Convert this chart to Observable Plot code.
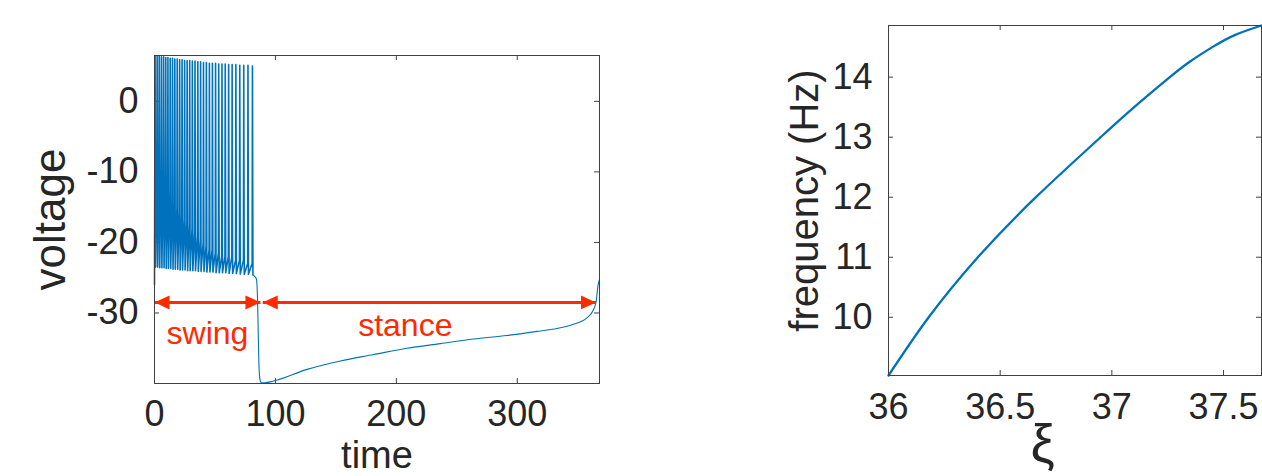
<!DOCTYPE html>
<html>
<head>
<meta charset="utf-8">
<script src="https://cdn.jsdelivr.net/npm/d3@7"></script>
<script src="https://cdn.jsdelivr.net/npm/@observablehq/plot@0.6"></script>
<style>
  html, body { margin: 0; padding: 0; background: #fff; }
  #wrap { position: relative; width: 1262px; height: 476px; overflow: hidden; background: #fff; }
  #left, #right { position: absolute; top: 0; }
  #left { left: 0; }
  #right { left: 762px; }
</style>
</head>
<body>
<div id="wrap"><div id="left"></div><div id="right"></div></div>
<script>
// ---------- Left panel data (voltage trace) ----------
const startT = 0, startV = -26;
const spikeTimes = [0.5, 2.2, 3.9, 5.7, 7.5, 9.3, 11.1, 13.0, 14.9, 16.8, 18.8, 20.8, 22.8, 24.9, 27.0, 29.1, 31.3, 33.5, 35.8, 38.1, 40.5, 42.9, 45.4, 47.9, 50.5, 53.1, 55.8, 58.5, 61.3, 64.2, 67.3, 70.5, 73.8, 77.3, 81.0];
const spikePeaks = [6.5, 6.4, 6.4, 6.3, 6.3, 6.2, 6.2, 6.1, 6.1, 6.0, 6.0, 5.9, 5.9, 5.8, 5.8, 5.8, 5.7, 5.7, 5.6, 5.6, 5.5, 5.5, 5.4, 5.4, 5.4, 5.3, 5.3, 5.3, 5.2, 5.2, 5.2, 5.1, 5.1, 5.1, 5.0];
const spikeTroughs = [-23.5, -23.5, -23.6, -23.6, -23.6, -23.7, -23.7, -23.7, -23.8, -23.8, -23.8, -23.9, -23.9, -23.9, -24.0, -24.0, -24.0, -24.0, -24.1, -24.1, -24.1, -24.2, -24.2, -24.2, -24.3, -24.3, -24.3, -24.3, -24.4, -24.4, -24.4, -24.5, -24.5, -24.5, -24.6];
// level reached just before each spike takes off
const preSpikeLevels = [-8, -9, -10, -10.5, -11, -12, -12.5, -13, -14, -14.5, -15, -15.5, -16, -16.5, -17, -17.5, -18, -18.5, -19, -19.5, -20, -20.5, -21, -21, -21.5, -21.5, -22, -22, -22, -22, -22.5, -22.5, -22.5, -23, -23];
const restT = [81.4, 82.2, 83.3, 84.3, 85.2, 85.8, 86.4, 87.2, 88.5, 91.0, 98.6, 126.2, 153.7, 181.3, 208.8, 236.4, 263.9, 291.5, 319.0, 332.8, 346.5, 357.6, 363.1, 365.3, 366.7, 367.8];
const restV = [-24.6, -24.7, -24.9, -25.2, -28.0, -33.0, -37.5, -39.4, -39.9, -39.9, -39.65, -38.0, -36.8, -35.9, -35.0, -34.35, -33.7, -33.2, -32.55, -32.2, -31.6, -30.7, -29.5, -28.3, -26.2, -25.3];
const timeTicks = [0, 100, 200, 300];
const voltageTicks = [-30, -20, -10, 0];

// phase annotations
const phaseNames = ["swing", "stance"];
const phaseStart = [0, 89.5];
const phaseEnd = [87.6, 365];
const phaseArrowV = -28.5;
const phaseLabelT = [43.8, 207.4];
const phaseLabelV = [-34.4, -33.3];

// ---------- Right panel data (frequency vs xi) ----------
const xiValues = [36, 36.18, 36.40, 36.66, 36.95, 37.1, 37.25, 37.35, 37.45, 37.55, 37.67];
const freqValues = [9.03, 10, 11, 12, 13, 13.5, 13.97, 14.26, 14.5, 14.7, 14.86];
const xiTicks = [36, 36.5, 37, 37.5];
const freqTicks = [10, 11, 12, 13, 14];

// ---------- build tables ----------
const swingTrace = [{t: startT, v: startV}];
spikeTimes.forEach((t, i) => {
  swingTrace.push({t: t - 0.25, v: preSpikeLevels[i]});
  swingTrace.push({t, v: spikePeaks[i]});
  swingTrace.push({t: t + 0.4, v: spikeTroughs[i]});
});
const stanceTrace = restT.map((t, i) => ({t, v: restV[i]}));

const phases = phaseNames.map((name, i) => ({
  name, t1: phaseStart[i], t2: phaseEnd[i], v: phaseArrowV, lt: phaseLabelT[i], lv: phaseLabelV[i]
}));
const freq = xiValues.map((xi, i) => ({xi, f: freqValues[i]}));

const BLUE = "#0072BD";
const RED = "#ff2a00";
const AX = "#404040";
const TXT = "#262626";
const FONT = "'Liberation Sans', Arial, Helvetica, sans-serif";

function filledArrow(color) {
  const m = d3.create("svg:marker")
    .attr("viewBox", "-15 -7.5 15 15")
    .attr("markerWidth", 15)
    .attr("markerHeight", 15)
    .attr("markerUnits", "userSpaceOnUse")
    .attr("refX", 0)
    .attr("refY", 0)
    .attr("orient", "auto-start-reverse")
    .attr("fill", color)
    .attr("stroke", "none");
  m.append("path").attr("d", "M-15,-7L0,0L-15,7Z");
  return m.node();
}

// ---------- Left plot ----------
const L = {w: 640, h: 476, ml: 154, mr: 41, mt: 55, mb: 93};
const LfW = L.w - L.ml - L.mr, LfH = L.h - L.mt - L.mb;
const left = Plot.plot({
  width: L.w, height: L.h,
  marginLeft: L.ml, marginRight: L.mr, marginTop: L.mt, marginBottom: L.mb,
  style: {fontFamily: FONT, color: TXT, background: "white", overflow: "visible"},
  x: {domain: [0, 368]},
  y: {domain: [-40, 6.5]},
  marks: [
    Plot.gridX(timeTicks, {stroke: AX, strokeOpacity: 1, insetTop: LfH - 5}),
    Plot.gridX(timeTicks, {stroke: AX, strokeOpacity: 1, insetBottom: LfH - 5}),
    Plot.gridY(voltageTicks, {stroke: AX, strokeOpacity: 1, insetRight: LfW - 5}),
    Plot.gridY(voltageTicks, {stroke: AX, strokeOpacity: 1, insetLeft: LfW - 5}),
    Plot.line(swingTrace, {x: "t", y: "v", stroke: BLUE, strokeWidth: 1.6, curve: "linear"}),
    Plot.line(stanceTrace, {x: "t", y: "v", stroke: BLUE, strokeWidth: 1.1, curve: "monotone-x"}),
    Plot.link(phases, {x1: "t1", x2: "t2", y1: "v", y2: "v", stroke: RED, strokeWidth: 3,
      markerStart: filledArrow, markerEnd: filledArrow}),
    Plot.text(phases, {x: "lt", y: "lv", text: "name", fill: RED, fontSize: 32, lineAnchor: "bottom"}),
    Plot.frame({stroke: AX, strokeWidth: 1}),
    Plot.axisX(timeTicks, {tickSize: 0, tickPadding: 17, fontSize: 36, label: null, tickFormat: d => String(d), fill: TXT}),
    Plot.axisY(voltageTicks, {tickSize: 0, tickPadding: 16, fontSize: 36, label: null, tickFormat: d => String(d), fill: TXT}),
    Plot.text(["time"], {text: d => d, frameAnchor: "bottom", dy: 72.5, fontSize: 38, fill: TXT, textAnchor: "middle", lineAnchor: "middle"}),
    Plot.text(["voltage"], {text: d => d, frameAnchor: "left", dx: -104, rotate: -90, fontSize: 44, fill: TXT, textAnchor: "middle", lineAnchor: "middle"})
  ]
});
document.getElementById("left").appendChild(left);

// ---------- Right plot ----------
const R = {w: 500, h: 476, ml: 126, mr: 1, mt: 25, mb: 101};
const RfW = R.w - R.ml - R.mr, RfH = R.h - R.mt - R.mb;
const right = Plot.plot({
  width: R.w, height: R.h,
  marginLeft: R.ml, marginRight: R.mr, marginTop: R.mt, marginBottom: R.mb,
  style: {fontFamily: FONT, color: TXT, background: "white", overflow: "visible"},
  x: {domain: [36, 37.67]},
  y: {domain: [9.03, 14.86]},
  marks: [
    Plot.gridX(xiTicks, {stroke: AX, strokeOpacity: 1, insetTop: RfH - 5}),
    Plot.gridX(xiTicks, {stroke: AX, strokeOpacity: 1, insetBottom: RfH - 5}),
    Plot.gridY(freqTicks, {stroke: AX, strokeOpacity: 1, insetRight: RfW - 5}),
    Plot.gridY(freqTicks, {stroke: AX, strokeOpacity: 1, insetLeft: RfW - 5}),
    Plot.line(freq, {x: "xi", y: "f", stroke: BLUE, strokeWidth: 2.3, curve: "natural"}),
    Plot.frame({stroke: AX, strokeWidth: 1}),
    Plot.axisX(xiTicks, {tickSize: 0, tickPadding: 18, fontSize: 36, label: null, tickFormat: d => String(d), fill: TXT}),
    Plot.axisY(freqTicks, {tickSize: 0, tickPadding: 16, fontSize: 36, label: null, tickFormat: d => String(d), fill: TXT}),
    Plot.text(["ξ"], {text: d => d, frameAnchor: "bottom-left", dx: 154, dy: 69, fontSize: 54, fill: TXT, textAnchor: "middle", lineAnchor: "middle"}),
    Plot.text(["frequency (Hz)"], {text: d => d, frameAnchor: "left", dx: -83, rotate: -90, fontSize: 40, fill: TXT, textAnchor: "middle", lineAnchor: "middle"})
  ]
});
document.getElementById("right").appendChild(right);
</script>
</body>
</html>
